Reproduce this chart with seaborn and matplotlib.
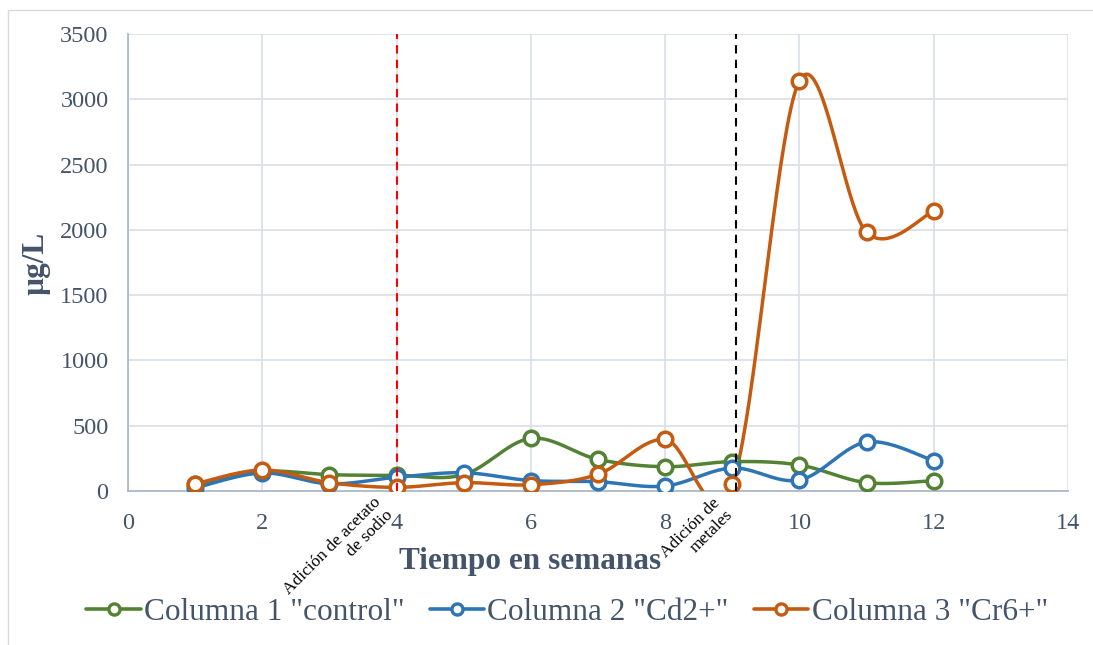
import numpy as np
import pandas as pd
import matplotlib
matplotlib.use("Agg")
import matplotlib.pyplot as plt
import matplotlib.transforms as mtransforms
from matplotlib.patches import Rectangle
from matplotlib.lines import Line2D
import seaborn as sns

# Weekly measurements (µg/L)
semanas = [1, 2, 3, 4, 5, 6, 7, 8, 9, 10, 11, 12]
control = [50, 150, 125, 120, 125, 403, 242, 186, 225, 199, 64, 79]
cd2 = [23, 138, 55, 105, 140, 80, 71, 38, 176, 84, 375, 232]
cr6 = [54, 161, 64, 28, 64, 48, 128, 396, 51, 3142, 1981, 2144]

series_names = ['Columna 1 "control"', 'Columna 2 "Cd2+"', 'Columna 3 "Cr6+"']
series_values = [control, cd2, cr6]
colors = ["#548235", "#2E75B6", "#C55A11"]

x_ticks = [0, 2, 4, 6, 8, 10, 12, 14]
y_ticks = [0, 500, 1000, 1500, 2000, 2500, 3000, 3500]

eventos_x = [4, 9.05]
eventos_txt = ["Adición de acetato\nde sodio", "Adición de\nmetales"]
eventos_col = ["#FF0000", "#000000"]

TXT = "#44546A"
SERIF = ["Liberation Serif", "DejaVu Serif"]


def smooth(xs, ys, n=40):
    """Catmull-Rom style cubic Bezier through every point."""
    P = np.column_stack([xs, ys]).astype(float)
    P = np.vstack([P[0], P, P[-1]])
    out = []
    t = np.linspace(0, 1, n)[:, None]
    for i in range(1, len(P) - 2):
        p0, p1, p2, p3 = P[i - 1], P[i], P[i + 1], P[i + 2]
        c1 = p1 + (p2 - p0) / 6.0
        c2 = p2 - (p3 - p1) / 6.0
        seg = ((1 - t) ** 3) * p1 + 3 * ((1 - t) ** 2) * t * c1 + 3 * (1 - t) * t ** 2 * c2 + t ** 3 * p2
        out.append(seg if i == 1 else seg[1:])
    out = np.vstack(out)
    return out[:, 0], out[:, 1]


sns.set_theme(style="whitegrid")
plt.rcParams["font.family"] = SERIF

fig = plt.figure(figsize=(10.93, 6.45), dpi=100)
fig.patches.append(Rectangle((8 / 1093, -20 / 645), 1120 / 1093, 655 / 645,
                             transform=fig.transFigure, fill=False,
                             edgecolor="#D9D9D9", linewidth=1.0))
ax = fig.add_axes([128 / 1093, 1 - 491 / 645, 940 / 1093, 457 / 645])
ax.set_facecolor("white")

for name, vals, col in zip(series_names, series_values, colors):
    sx, sy = smooth(semanas, vals)
    df = pd.DataFrame({"x": sx, "y": sy})
    sns.lineplot(data=df, x="x", y="y", ax=ax, color=col, linewidth=2.5,
                 sort=False, estimator=None, legend=False, zorder=3)
    pts = pd.DataFrame({"x": semanas, "y": vals})
    ax.plot(pts["x"], pts["y"], linestyle="none", marker="o", markersize=10.5,
            markerfacecolor="white", markeredgecolor=col, markeredgewidth=2.5,
            zorder=4)

for ex, col in zip(eventos_x, eventos_col):
    ax.plot([ex, ex], [0, 3500], linestyle=(0, (4, 3)), color=col,
            linewidth=1.5, zorder=5)

trans = mtransforms.blended_transform_factory(ax.transData, ax.transAxes)
for ex, txt in zip(eventos_x, eventos_txt):
    ax.text(ex, -0.008, txt, transform=trans, rotation=45,
            ha="right", va="top", multialignment="right",
            fontsize=12.5, color="black", family=SERIF, linespacing=1.12)

ax.set_xlim(0, 14)
ax.set_ylim(0, 3500)
ax.set_xticks(x_ticks)
ax.set_yticks(y_ticks)
ax.tick_params(axis="y", length=0, labelsize=17.5, labelcolor=TXT, pad=14)
ax.tick_params(axis="x", length=0, labelsize=17.5, labelcolor=TXT, pad=16)
ax.grid(True, color="#D9DEE6", linewidth=1.2)
for s in ["top", "right"]:
    ax.spines[s].set_visible(False)
for s in ["left", "bottom"]:
    ax.spines[s].set_color("#ADB9CA")
    ax.spines[s].set_linewidth(1.3)
ax.set_xlabel("")
ax.set_ylabel("")

fig.text(530 / 1093, 1 - 562 / 645, "Tiempo en semanas", ha="center",
         va="center", fontsize=22.5, fontweight="bold", color=TXT)
fig.text(36 / 1093, 1 - 263 / 645, "µg/L", ha="center", va="center",
         rotation=90, fontsize=22.5, fontweight="bold", color=TXT)

handles = [Line2D([0], [0], color=c, linewidth=2.6, marker="o", markersize=8,
                  markerfacecolor="white", markeredgecolor=c,
                  markeredgewidth=2.4) for c in colors]
leg = fig.legend(handles, series_names, loc="center",
                 bbox_to_anchor=(567 / 1093, 1 - 612 / 645), ncol=3,
                 frameon=False, fontsize=22.5, handlelength=1.75,
                 handletextpad=0.1, columnspacing=0.8)
for t in leg.get_texts():
    t.set_color(TXT)

fig.savefig("out.png", dpi=100)
